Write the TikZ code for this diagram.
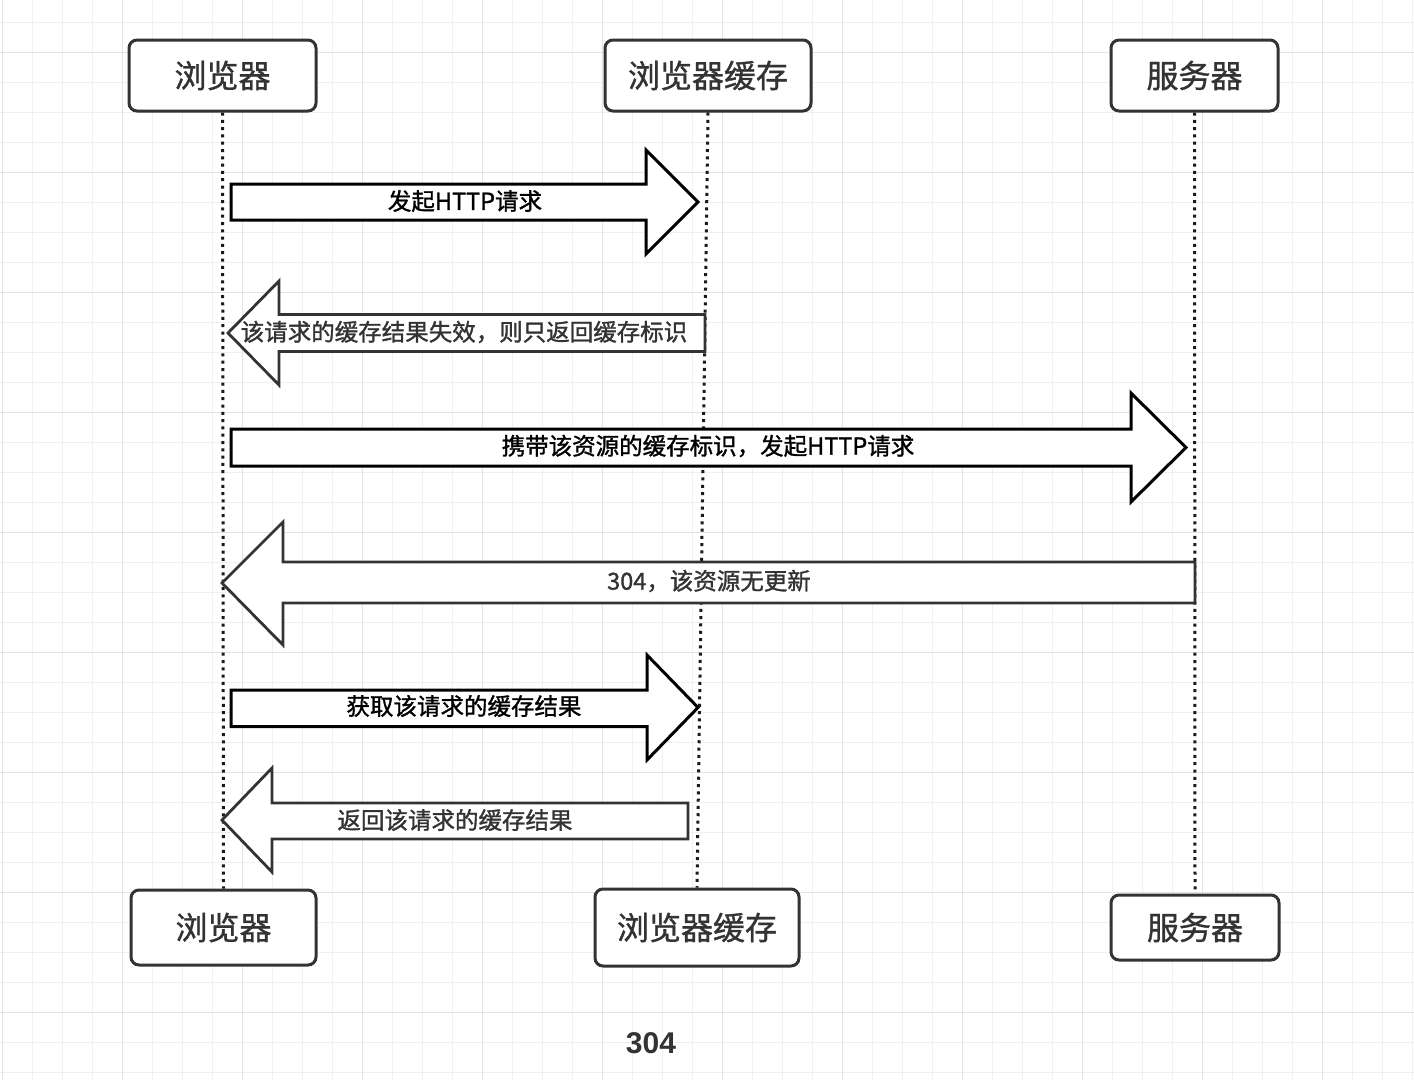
\documentclass[tikz,border=0pt]{standalone}
\usepackage{fontspec}
\newfontfamily\cjk[FakeBold=1.3]{Noto Sans CJK SC}
\newfontfamily\cjkbox[FakeBold=1.0]{Noto Sans CJK SC}
\newfontfamily\latbold{Liberation Sans}
\definecolor{ink}{HTML}{333333}
\definecolor{gridminor}{HTML}{F0F0F0}
\definecolor{gridmajor}{HTML}{E4E4E4}
\begin{document}
\begin{tikzpicture}[x=1pt,y=-1pt,
  actor/.style={draw=ink,line width=3pt,rounded corners=8pt,fill=white,inner sep=0pt,
    font=\cjkbox\fontsize{32}{36}\selectfont,text=ink},
  lifeline/.style={draw=black!90,line width=3pt,dash pattern=on 3pt off 4.3pt},
  rarrow/.style={draw=black,line width=3pt,fill=white,line join=miter},
  larrow/.style={draw=ink,line width=2.8pt,fill=white,line join=miter},
  rlabel/.style={font=\cjk\fontsize{23.5}{26}\selectfont,text=black,inner sep=0pt},
  llabel/.style={font=\cjk\fontsize{23.5}{26}\selectfont,text=ink,inner sep=0pt}]
% canvas
\path[use as bounding box,fill=white] (0,0) rectangle (1414,1080);
% grid
\foreach \gx in {2.7,32.7,...,1414}{\draw[gridminor,line width=1.4pt] (\gx,0) -- (\gx,1080);}
\foreach \gy in {22.7,52.7,...,1080}{\draw[gridminor,line width=1.4pt] (0,\gy) -- (1414,\gy);}
\foreach \gx in {2.7,122.7,...,1414}{\draw[gridmajor,line width=1.4pt] (\gx,0) -- (\gx,1080);}
\foreach \gy in {52.7,172.7,...,1080}{\draw[gridmajor,line width=1.4pt] (0,\gy) -- (1414,\gy);}

% actors top
\node[actor,minimum width=187pt,minimum height=71pt] (b1) at (222.5,75.5) {浏览器};
\node[actor,minimum width=206pt,minimum height=71pt] (c1) at (708,75.5) {浏览器缓存};
\node[actor,minimum width=167pt,minimum height=71pt] (s1) at (1194.5,75.5) {服务器};
% actors bottom
\node[actor,minimum width=185pt,minimum height=75pt] (b2) at (223.5,927.5) {浏览器};
\node[actor,minimum width=204pt,minimum height=77pt] (c2) at (697,927.5) {浏览器缓存};
\node[actor,minimum width=168pt,minimum height=65pt] (s2) at (1195,927.5) {服务器};

% lifelines
\draw[lifeline] (b1.south) -- (b2.north);
\draw[lifeline] (c1.south) -- (c2.north);
\draw[lifeline] (s1.south) -- (s2.north);

% 1: request
\draw[rarrow] (231,184) -- (646,184) -- (646,150) -- (698,202) -- (646,254) -- (646,220) -- (231,220) -- cycle;
\node[rlabel] (m1) at (465,201) {发起HTTP请求};
% 2: cache invalid
\draw[larrow] (705,314.5) -- (279,314.5) -- (279,281) -- (228,333) -- (279,385) -- (279,351.5) -- (705,351.5) -- cycle;
\node[llabel] (m2) at (464,332) {该请求的缓存结果失效，则只返回缓存标识};
% 3: request with tag
\draw[rarrow] (231,429) -- (1131,429) -- (1131,393) -- (1186,447.5) -- (1131,502) -- (1131,466) -- (231,466) -- cycle;
\node[rlabel] (m3) at (708,446) {携带该资源的缓存标识，发起HTTP请求};
% 4: 304
\draw[larrow] (1195,562) -- (283,562) -- (283,522) -- (222,583) -- (283,645) -- (283,603) -- (1195,603) -- cycle;
\node[llabel] (m4) at (709,581) {304，该资源无更新};
% 5: get cache
\draw[rarrow] (231,690) -- (647,690) -- (647,655) -- (698,707.5) -- (647,760) -- (647,726.5) -- (231,726.5) -- cycle;
\node[rlabel] (m5) at (464,706) {获取该请求的缓存结果};
% 6: return cache
\draw[larrow] (688,803) -- (272,803) -- (272,768) -- (222,820) -- (272,872) -- (272,839) -- (688,839) -- cycle;
\node[llabel] (m6) at (455,820) {返回该请求的缓存结果};

% caption
\node[font=\latbold\bfseries\fontsize{30}{34}\selectfont,text=ink,inner sep=0pt] (cap) at (651,1043.5) {304};
\end{tikzpicture}
\end{document}
